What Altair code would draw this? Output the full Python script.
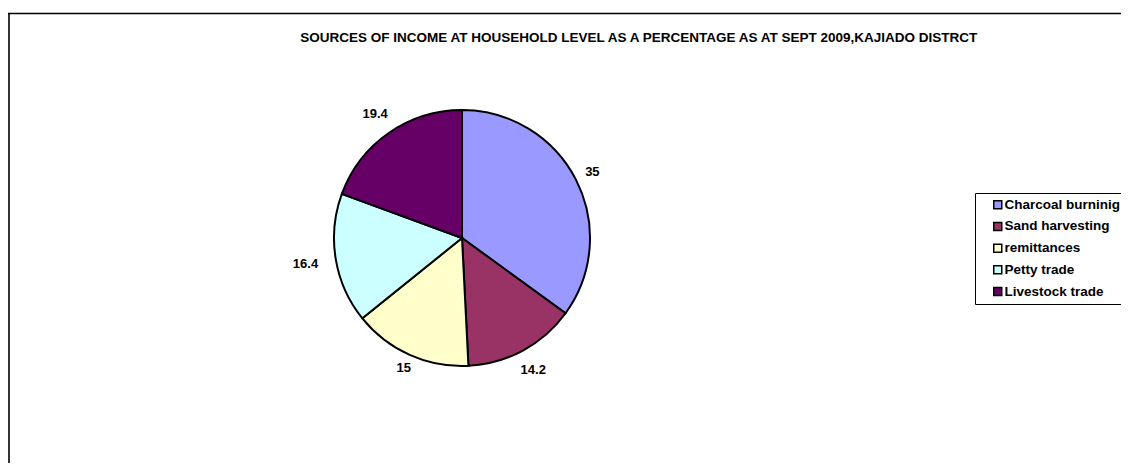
import altair as alt
import pandas as pd

categories = ["Charcoal burninig", "Sand harvesting", "remittances", "Petty trade", "Livestock trade"]
values = [35, 14.2, 15, 16.4, 19.4]
colors = ["#9999FF", "#993366", "#FFFFCC", "#CCFFFF", "#660066"]
title_text = "SOURCES OF INCOME AT HOUSEHOLD LEVEL AS A PERCENTAGE AS AT SEPT 2009,KAJIADO DISTRCT"

FONT = "Liberation Sans, Arial, Helvetica, sans-serif"

df = pd.DataFrame({"source": categories, "value": values, "idx": list(range(len(categories)))})
one = pd.DataFrame({"k": [0]})

frame_left = alt.Chart(one).mark_rule(color="#333333", strokeWidth=2).encode(
    x=alt.value(1), y=alt.value(-4.5), y2=alt.value(460)
)
frame_top = alt.Chart(one).mark_rule(color="black", strokeWidth=1.5).encode(
    x=alt.value(0), x2=alt.value(1113), y=alt.value(-4.5)
)

pie = alt.Chart(df).mark_arc(radius=128, stroke="black", strokeWidth=2).encode(
    theta=alt.Theta("value:Q", stack=True),
    color=alt.Color(
        "source:N",
        scale=alt.Scale(domain=categories, range=colors),
        legend=alt.Legend(
            title=None, orient="none", legendX=967, legendY=175, padding=5,
            strokeColor="black", fillColor="white",
            symbolType="square", symbolSize=64, symbolStrokeColor="black",
            symbolStrokeWidth=1.5, symbolOffset=11, symbolOpacity=1,
            labelOffset=0, labelFont=FONT, labelFontSize=13.5, labelFontWeight="bold",
            labelColor="black", rowPadding=6.7, labelLimit=300,
        ),
    ),
    order=alt.Order("idx:Q"),
)

labels = (
    alt.Chart(df)
    .transform_window(cum="sum(value)", sort=[alt.SortField("idx")], frame=[None, 0])
    .transform_joinaggregate(total="sum(value)")
    .transform_calculate(mid="2*PI*(datum.cum - datum.value/2)/datum.total")
    .transform_calculate(lab="'' + datum.value")
    .transform_calculate(lr="132 + 6.5*length(datum.lab)*abs(sin(datum.mid)) + 6*abs(cos(datum.mid))")
    .mark_text(font=FONT, fontSize=13, fontWeight="bold", color="black", align="center", baseline="middle")
    .encode(
        theta=alt.Theta("mid:Q", scale=None, stack=False),
        radius=alt.Radius("lr:Q", scale=None),
        text="lab:N",
    )
)

chart = (
    alt.layer(frame_left, frame_top, pie, labels)
    .properties(
        width=908,
        height=440,
        title=alt.TitleParams(
            text=title_text, anchor="start", orient="top", offset=0, dx=293, dy=42.6,
            baseline="alphabetic", font=FONT, fontSize=13.5, fontWeight="bold", color="black",
        ),
        padding={"left": 0, "top": 10, "right": 205, "bottom": 5},
        autosize=alt.AutoSizeParams(type="none"),
        background="white",
    )
    .configure_view(stroke=None)
)

chart.save("out.html", embed_options={"renderer": "svg", "actions": False})
